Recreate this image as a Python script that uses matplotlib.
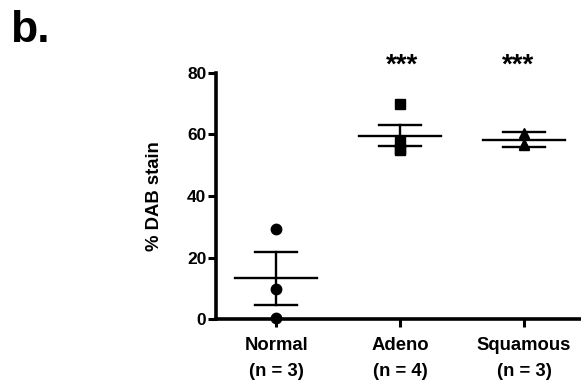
import numpy as np
import matplotlib.pyplot as plt

plt.rcParams['font.family'] = ['Liberation Sans', 'DejaVu Sans']
plt.rcParams['font.weight'] = 'bold'

# Données
groupes = ['Normal\n(n = 3)', 'Adeno\n(n = 4)', 'Squamous\n(n = 3)']
normal = [29.3, 9.7, 0.5]
adeno = [70.0, 57.5, 55.2, 54.8]
squamous = [60.4, 57.0, 56.4]
moyennes = [13.3, 59.6, 58.3]
sem = [8.5, 3.4, 2.35]
marqueurs = ['o', 's', '^']
etoiles = ['', '***', '***']
decalage_etoiles = [0, 0.015, -0.045]

fig = plt.figure(figsize=(5.81, 3.85), dpi=100)
ax = fig.add_axes([0.372, 0.1706, 0.628, 0.6405])

for i, pts in enumerate([normal, adeno, squamous]):
    xpos = i + 1
    ax.plot([xpos] * len(pts), pts, marqueurs[i], color='black',
            markersize=7.5 if i != 1 else 7, clip_on=False, zorder=3)
    m, s = moyennes[i], sem[i]
    ax.plot([xpos - 0.33, xpos + 0.33], [m, m], color='black', lw=1.7, clip_on=False)
    ax.plot([xpos - 0.17, xpos + 0.17], [m + s, m + s], color='black', lw=1.7)
    ax.plot([xpos - 0.17, xpos + 0.17], [m - s, m - s], color='black', lw=1.7, clip_on=False)
    ax.plot([xpos, xpos], [m - s, m + s], color='black', lw=1.7, clip_on=False)
    if etoiles[i]:
        ax.text(xpos + decalage_etoiles[i], 82.2, etoiles[i], ha='center', va='center',
                fontsize=20, fontweight='bold')

ax.set_xlim(0.516, 3.46)
ax.set_ylim(0, 80)
ax.set_yticks([0, 20, 40, 60, 80])
ax.set_xticks([1, 2, 3])
ax.set_xticklabels(groupes, fontsize=13.3, fontweight='bold', linespacing=1.65)
ax.tick_params(axis='y', labelsize=12.5, width=2.2, length=6, pad=1)
ax.tick_params(axis='x', width=2.2, length=6, pad=7)
for lab in ax.get_yticklabels():
    lab.set_fontweight('bold')

ax.spines['top'].set_visible(False)
ax.spines['right'].set_visible(False)
ax.spines['left'].set_linewidth(2.6)
ax.spines['bottom'].set_linewidth(2.6)

ax.set_ylabel('% DAB stain', fontsize=13.3, fontweight='bold', labelpad=17)
fig.text(0.017, 0.89, 'b.', fontsize=32, fontweight='bold')

fig.savefig('out.png', dpi=100)
